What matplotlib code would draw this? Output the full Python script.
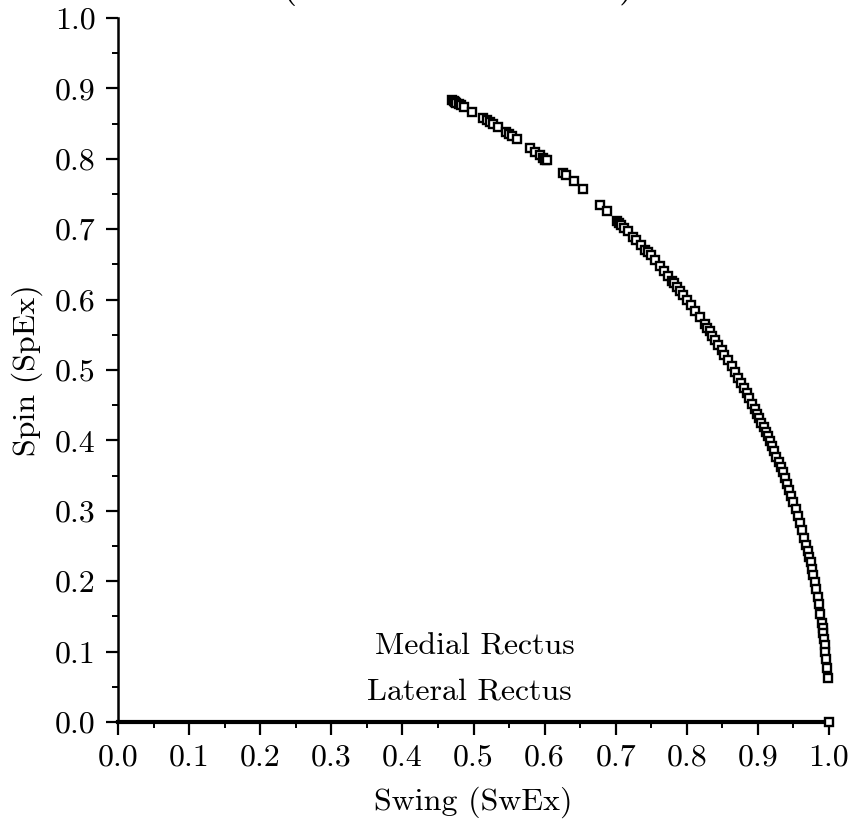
import matplotlib
matplotlib.use("Agg")
import matplotlib.pyplot as plt
from matplotlib.ticker import MultipleLocator

plt.rcParams['font.family'] = ['cmr10', 'DejaVu Serif']
plt.rcParams['axes.formatter.use_mathtext'] = True
plt.rcParams['mathtext.fontset'] = 'cm'

swing = [0.470, 0.472, 0.474, 0.476, 0.479, 0.483, 0.486, 0.498, 0.514, 0.519,
         0.523, 0.528, 0.534, 0.546, 0.550, 0.554, 0.561, 0.580, 0.587, 0.593,
         0.598, 0.601, 0.603, 0.626, 0.630, 0.641, 0.654, 0.678, 0.688, 0.702,
         0.705, 0.708, 0.712, 0.717, 0.725, 0.729, 0.735, 0.741, 0.745, 0.749,
         0.755, 0.762, 0.768, 0.774, 0.779, 0.782, 0.786, 0.791, 0.795, 0.800,
         0.806, 0.812, 0.818, 0.825, 0.829, 0.832, 0.836, 0.840, 0.844, 0.849,
         0.853, 0.858, 0.863, 0.868, 0.872, 0.876, 0.880, 0.884, 0.888, 0.892,
         0.896, 0.899, 0.902, 0.905, 0.908, 0.911, 0.914, 0.917, 0.920, 0.923,
         0.926, 0.929, 0.932, 0.935, 0.938, 0.941, 0.944, 0.947, 0.950, 0.953,
         0.956, 0.959, 0.962, 0.965, 0.968, 0.970, 0.972, 0.974, 0.976, 0.978,
         0.980, 0.982, 0.984, 0.986, 0.988, 0.990, 0.991, 0.992, 0.993, 0.994,
         0.995, 0.996, 0.997, 0.998, 1.000]
spin = [0.883, 0.882, 0.881, 0.879, 0.878, 0.876, 0.874, 0.867, 0.858, 0.855,
        0.852, 0.849, 0.845, 0.838, 0.835, 0.833, 0.828, 0.815, 0.810, 0.805,
        0.801, 0.799, 0.798, 0.780, 0.777, 0.768, 0.757, 0.735, 0.726, 0.712,
        0.709, 0.706, 0.702, 0.697, 0.689, 0.684, 0.678, 0.671, 0.667, 0.663,
        0.656, 0.648, 0.640, 0.633, 0.627, 0.623, 0.618, 0.612, 0.607, 0.600,
        0.592, 0.584, 0.575, 0.565, 0.559, 0.555, 0.549, 0.543, 0.536, 0.528,
        0.522, 0.514, 0.505, 0.497, 0.489, 0.482, 0.475, 0.467, 0.460, 0.452,
        0.444, 0.438, 0.432, 0.425, 0.419, 0.412, 0.406, 0.399, 0.392, 0.385,
        0.377, 0.370, 0.362, 0.355, 0.347, 0.338, 0.330, 0.321, 0.312, 0.303,
        0.293, 0.283, 0.273, 0.262, 0.251, 0.243, 0.235, 0.227, 0.218, 0.209,
        0.199, 0.189, 0.178, 0.167, 0.154, 0.141, 0.134, 0.126, 0.118, 0.109,
        0.100, 0.089, 0.077, 0.063, 0.000]

ticks = [0.0, 0.1, 0.2, 0.3, 0.4, 0.5, 0.6, 0.7, 0.8, 0.9, 1.0]
tick_labels = ["0.0", "0.1", "0.2", "0.3", "0.4", "0.5", "0.6", "0.7", "0.8", "0.9", "1.0"]

FS = 23

fig = plt.figure(figsize=(8.51, 8.21), dpi=100)
ax = fig.add_axes([118/851, 1 - 722/821, (829-118)/851, (722-18)/821])

ax.plot(swing, spin, linestyle='none', marker='s', markersize=5.5,
        markerfacecolor='white', markeredgecolor='black', markeredgewidth=1.7,
        clip_on=False, zorder=5)

ax.set_xlim(0, 1)
ax.set_ylim(0, 1)
ax.set_xticks(ticks)
ax.set_xticklabels(tick_labels)
ax.set_yticks(ticks)
ax.set_yticklabels(tick_labels)
ax.xaxis.set_minor_locator(MultipleLocator(0.05))
ax.yaxis.set_minor_locator(MultipleLocator(0.05))

for s in ['top', 'right']:
    ax.spines[s].set_visible(False)
ax.spines['left'].set_linewidth(1.8)
ax.spines['bottom'].set_linewidth(3.0)

ax.tick_params(which='major', direction='out', length=9, width=1.6,
               labelsize=FS, pad=7, colors='black')
ax.tick_params(which='minor', direction='out', length=4, width=1.4)

ax.set_xlabel("Swing (SwEx)", fontsize=FS, labelpad=11)
ax.set_ylabel("Spin (SpEx)", fontsize=FS, labelpad=9)

ax.text(0.502, 0.107, "Medial Rectus", fontsize=FS, ha='center', va='center')
ax.text(0.494, 0.043, "Lateral Rectus", fontsize=FS, ha='center', va='center')

fig.text(289/851, 1 + 5/821, "(", fontsize=30, ha='center', va='baseline')
fig.text(627/851, 1 + 5/821, ")", fontsize=30, ha='center', va='baseline')

fig.savefig("out.png", dpi=100, facecolor='white')
